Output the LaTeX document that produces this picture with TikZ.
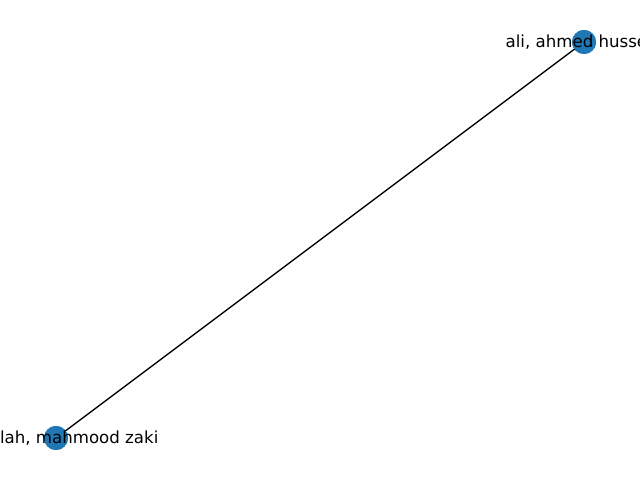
\documentclass[tikz,border=0pt]{standalone}
\usepackage{fontspec}
\setmainfont{DejaVu Sans}
\definecolor{nodeblue}{HTML}{1F77B4}
\tikzset{
  dot/.style={circle, fill=nodeblue, draw=none, minimum size=0.24in, inner sep=0pt},
  lbl/.style={font=\fontsize{12}{14}\selectfont, inner sep=0pt, anchor=center},
  edge/.style={draw=black, line width=1pt}
}
\begin{document}
\begin{tikzpicture}[x=0.01in, y=-0.01in]
\useasboundingbox (0,0) rectangle (640,480);
\clip (0,0) rectangle (640,480);
\node[dot] (a) at (584,42) {};
\node[dot] (b) at (56,438) {};
\draw[edge] (a.center) -- (b.center);
\node[dot] at (584,42) {};
\node[dot] at (56,438) {};
\node[lbl] (la) at (584,42) {ali, ahmed hussein};
\node[lbl] (lb) at (56,438) {abdullah, mahmood zaki};
\end{tikzpicture}
\end{document}
